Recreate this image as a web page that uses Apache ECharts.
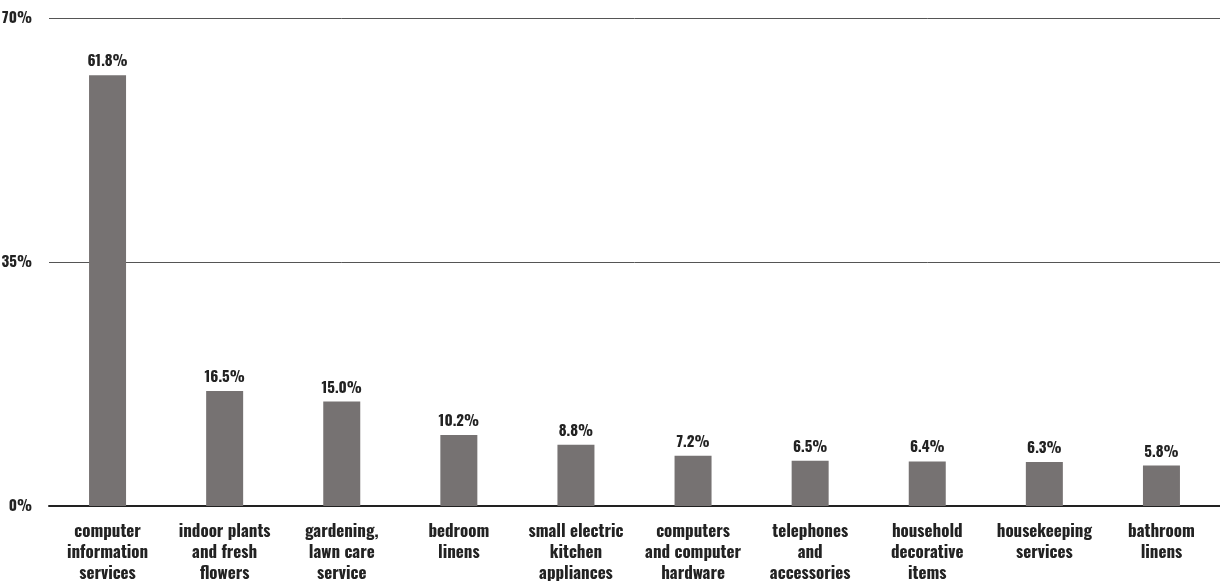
<!DOCTYPE html>
<html><head><meta charset="utf-8">
<script src="https://cdn.jsdelivr.net/npm/echarts@6/dist/echarts.min.js"></script>
<style>html,body{margin:0;padding:0;background:#fff}#c{width:1220px;height:581px}</style>
</head><body><div id="c"></div>
<script>
const categories = ["computer\ninformation\nservices","indoor plants\nand fresh\nflowers","gardening,\nlawn care\nservice","bedroom\nlinens","small electric\nkitchen\nappliances","computers\nand computer\nhardware","telephones\nand\naccessories","household\ndecorative\nitems","housekeeping\nservices","bathroom\nlinens"];
const values = [61.8,16.5,15.0,10.2,8.8,7.2,6.5,6.4,6.3,5.8];
const yTicks = [0,35,70];
const FONT = 'Oswald, "Roboto Condensed", sans-serif';
const chart = echarts.init(document.getElementById('c'));
chart.setOption({
  animation:false,
  grid:{left:49,right:0,top:18,bottom:75,containLabel:false,outerBoundsMode:'none'},
  xAxis:{type:'category',data:categories,
    axisLine:{show:true,lineStyle:{color:'#222',width:2}},
    axisTick:{show:false},
    axisLabel:{interval:0,margin:15,color:'#222',fontFamily:FONT,fontWeight:'bold',fontSize:17,lineHeight:21}},
  yAxis:{type:'value',min:yTicks[0],max:yTicks[2],interval:35,
    axisLine:{show:false},axisTick:{show:false},
    splitLine:{lineStyle:{color:'#555',width:1}},
    axisLabel:{margin:17,color:'#222',fontFamily:FONT,fontWeight:'bold',fontSize:15,formatter:v=>v+'%'}},
  series:[{type:'bar',data:values,barWidth:37,
    itemStyle:{color:'#767272'},
    label:{show:true,position:'top',distance:6,color:'#222',fontFamily:FONT,fontWeight:'bold',fontSize:15,formatter:p=>p.value.toFixed(1)+'%'}}]
});
</script></body></html>
